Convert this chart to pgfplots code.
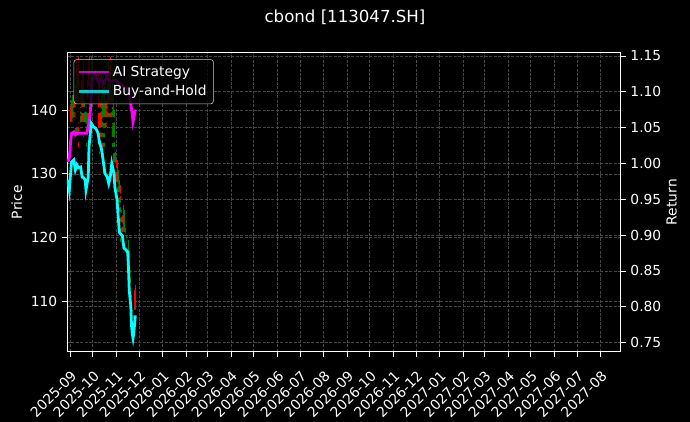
\documentclass[border=0pt]{standalone}
\usepackage{fontspec}
\setmainfont{DejaVu Sans}
\usepackage{pgfplots}
\pgfplotsset{compat=1.18}
\usepackage{pgfplotstable}

\definecolor{mplgreen}{HTML}{008000}
\definecolor{mplred}{HTML}{FF0000}
\definecolor{mplmagenta}{HTML}{FF00FF}
\definecolor{mplcyan}{HTML}{00FFFF}
\definecolor{gridc}{HTML}{464646}

% candles: day offset from 2025-09-01, low, high, body low, body high
\pgfplotstableread{
d lo hi blo bhi
0 132.20 137.69 133.77 136.12
1 134.55 140.83 135.65 138.48
2 136.12 141.62 137.69 139.73
4 136.12 142.40 137.69 140.36
7 135.34 143.97 138.48 141.62
8 137.69 147.90 140.05 143.97
10 136.12 147.11 139.26 143.19
11 133.77 148.37 140.83 144.76
15 132.98 144.76 135.34 141.62
16 134.55 145.54 137.69 142.40
17 136.91 147.90 140.05 143.97
21 133.77 142.40 136.91 140.05
23 135.34 144.76 136.91 142.40
24 140.05 147.90 141.62 144.76
25 140.83 148.37 143.19 146.33
38 136.91 146.33 140.05 143.97
39 132.67 143.19 135.34 141.62
42 132.20 142.40 133.77 140.05
43 133.77 144.76 136.91 142.40
46 136.91 146.33 138.48 143.97
49 133.77 143.97 135.34 141.62
50 136.12 145.54 138.48 142.40
52 137.69 147.11 140.05 143.97
53 138.48 148.37 140.83 144.76
60 126.70 133.77 128.27 132.20
64 123.56 129.84 125.13 128.27
66 120.42 128.27 121.99 126.70
70 118.85 125.13 120.42 123.56
72 117.76 121.99 118.85 121.21
85 103.94 111.79 105.51 110.22
86 104.73 112.58 108.18 110.69
}\upc

\pgfplotstableread{
d lo hi blo bhi
-3 130.63 135.34 132.20 133.77
3 135.34 142.40 136.91 139.26
9 135.34 145.54 138.48 142.40
14 133.77 142.40 136.12 140.05
18 135.34 144.76 137.69 141.62
22 133.77 141.62 136.12 139.26
28 141.62 148.37 143.19 146.33
29 140.05 147.90 142.40 145.54
44 129.53 145.54 135.34 143.19
45 133.77 144.76 136.91 141.62
51 134.55 147.90 136.91 143.19
56 135.34 146.33 138.48 143.19
57 131.41 142.40 133.77 140.05
58 128.27 140.05 130.63 136.91
59 125.92 136.91 128.27 133.77
63 125.13 132.20 126.70 130.63
65 121.99 129.06 123.56 127.49
67 118.85 125.92 120.42 124.35
71 118.07 124.35 119.64 122.78
73 116.19 121.52 117.28 120.42
74 115.24 120.42 116.50 119.64
77 112.58 119.64 114.15 118.07
78 110.22 117.28 111.79 114.93
79 107.87 114.93 109.44 113.36
80 105.51 112.58 107.08 111.00
81 103.63 110.22 104.73 108.65
84 103.16 108.65 104.26 107.39
}\downc

\pgfplotsset{
  base/.style={
    scale only axis, width=398.7bp, height=215.3bp,
    at={(0,0)}, anchor=south west,
    xmin=-4, xmax=725.5,
    axis line style={white, line width=0.6bp},
    tick style={white, line width=0.6bp},
    tick align=outside, major tick length=3.5bp,
    tick label style={white, font=\fontsize{10}{12}\selectfont},
    label style={white, font=\fontsize{10}{12}\selectfont},
    /pgf/number format/assume math mode=true,
    grid style={gridc, dash pattern=on 2.2bp off 1bp, line width=0.5bp},
  },
  candle/.style={only marks, mark=none, forget plot,
    error bars/.cd, y dir=plus, y explicit, error mark=none,
    error bar style={solid, #1}},
}

\begin{document}
\begin{tikzpicture}
\fill[black] (-48.24bp,-50.6bp) rectangle (448.6bp,253.2bp);
\path[use as bounding box] (-48.24bp,-50.6bp) rectangle (448.6bp,253.2bp);

\begin{axis}[base,
  ymin=102.09, ymax=149.04,
  ytick={110,120,130,140}, ytick pos=left, xtick pos=bottom,
  xtick={0,30,61,91,122,153,181,212,242,273,303,334,365,395,426,456,487,518,546,577,607,638,668,699},
  xticklabels={2025-09,2025-10,2025-11,2025-12,2026-01,2026-02,2026-03,2026-04,2026-05,2026-06,2026-07,2026-08,2026-09,2026-10,2026-11,2026-12,2027-01,2027-02,2027-03,2027-04,2027-05,2027-06,2027-07,2027-08},
  x tick label style={yshift=-8bp, rotate=45, anchor=north east, inner sep=1bp},
  grid=major,
  ylabel={Price},
  ylabel style={at={(axis description cs:0,0.5)}, anchor=center, yshift=36.2bp},
]
\addplot[candle={mplred, line width=0.6bp}] table[x=d, y=lo, y error plus expr=\thisrow{hi}-\thisrow{lo}] {\upc};
\addplot[candle={mplred, line width=1.5bp}] table[x=d, y=blo, y error plus expr=\thisrow{bhi}-\thisrow{blo}] {\upc};
\addplot[candle={mplgreen, line width=0.6bp}] table[x=d, y=lo, y error plus expr=\thisrow{hi}-\thisrow{lo}] {\downc};
\addplot[candle={mplgreen, line width=1.5bp}] table[x=d, y=blo, y error plus expr=\thisrow{bhi}-\thisrow{blo}] {\downc};
\end{axis}

\begin{axis}[base,
  ymin=0.7374, ymax=1.1546,
  hide x axis,
  ytick={0.75,0.80,0.85,0.90,0.95,1.00,1.05,1.10,1.15},
  ytick pos=right, yticklabel pos=right,
  yticklabel style={/pgf/number format/.cd, fixed, fixed zerofill, precision=2},
  ymajorgrids,
  ylabel={Return},
  ylabel style={at={(axis description cs:1,0.5)}, anchor=center, yshift=-36.7bp},
  legend cell align=left,
  legend image code/.code={\draw[#1] (0bp,0bp) -- (21bp,0bp);},
  legend style={at={(0,1)}, anchor=north west, xshift=4.8bp, yshift=-4.8bp,
    fill=black, fill opacity=0.8, draw=white, draw opacity=0.8, text opacity=1,
    text=white, rounded corners=2bp, font=\fontsize{10}{12}\selectfont,
    inner xsep=3bp, inner ysep=2.5bp, row sep=1bp},
]
\addplot[mplmagenta, line width=2bp] coordinates {
(-3,1.002) (-1,1.007) (1,1.033) (2,1.042) (5,1.044) (7,1.040) (9,1.042)
(13,1.042) (18,1.042) (22,1.042) (25,1.056) (27,1.075) (29,1.116) (31,1.123)
(33,1.126) (36,1.116) (38,1.112) (41,1.119) (44,1.112) (49,1.121) (53,1.114)
(58,1.116) (61,1.116) (64,1.112) (67,1.111) (71,1.107) (74,1.105) (77,1.103)
(79,1.089) (81,1.077) (82,1.068) (83,1.058) (84,1.063) (86,1.075)
};
\addlegendentry{AI Strategy}
\addplot[mplcyan, line width=2bp] coordinates {
(-3,0.977) (-1,0.963) (2,1.002) (5,1.005) (7,0.991) (9,0.998) (11,0.994)
(14,0.995) (16,0.981) (18,0.980) (20,0.977) (21,0.963) (24,0.981) (25,1.023)
(28,1.056) (31,1.051) (34,1.049) (37,1.042) (39,1.028) (41,1.023) (43,1.009)
(46,0.986) (49,0.981) (51,0.972) (53,0.981) (55,1.000) (58,0.986) (59,0.967)
(62,0.949) (63,0.932) (65,0.904) (67,0.901) (69,0.899) (71,0.882) (74,0.879)
(76,0.876) (77,0.854) (78,0.823) (80,0.802) (81,0.774) (82,0.762) (83,0.756)
(84,0.763) (86,0.788)
};
\addlegendentry{Buy-and-Hold}
\end{axis}

\node[white, font=\fontsize{12}{14}\selectfont] at (200.18bp,241bp) {cbond [113047.SH]};
\end{tikzpicture}
\end{document}
